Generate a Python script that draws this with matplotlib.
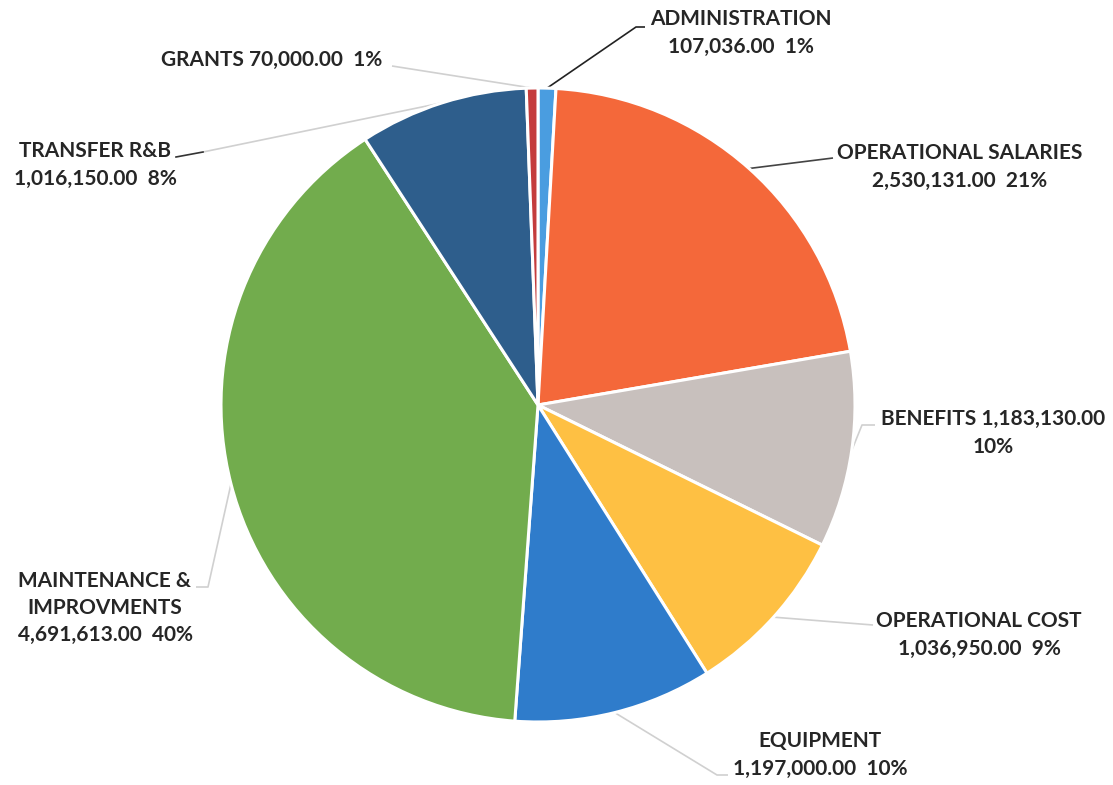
import numpy as np
import matplotlib.pyplot as plt

plt.rcParams.update({"font.family": ["Lato", "DejaVu Sans"], "font.weight": "bold"})

# budget categories, clockwise from the top
categories = ["ADMINISTRATION", "OPERATIONAL SALARIES", "BENEFITS", "OPERATIONAL COST",
              "EQUIPMENT", "MAINTENANCE & IMPROVMENTS", "TRANSFER R&B", "GRANTS"]
amounts = [107036.00, 2530131.00, 1183130.00, 1036950.00,
           1197000.00, 4691613.00, 1016150.00, 70000.00]
percents = [1, 21, 10, 9, 10, 40, 8, 1]
colors = ["#4a9de0", "#f4683a", "#c8c0bd", "#fec043",
          "#2f7ccb", "#72ac4d", "#2e5e8c", "#c43c3c"]

W, H = 1113, 785
cx, cy, R = 538, 405, 317

fig = plt.figure(figsize=(W / 100, H / 100), dpi=100)
ax = fig.add_axes([0, 0, 1, 1])
ax.axis("off")

wedges, _ = ax.pie(amounts, colors=colors, startangle=90, counterclock=False,
                   center=(cx, H - cy), radius=R,
                   wedgeprops=dict(edgecolor="white", linewidth=2.2))
ax.set_xlim(0, W)
ax.set_ylim(0, H)
ax.set_aspect("equal")


def fmt(v):
    return f"{v:,.2f}"


# label text, where it sits and how the leader line bends (pixel coords from top-left)
a, p = amounts, percents
texts = [
    f"ADMINISTRATION\n{fmt(a[0])}  {p[0]}%",
    f"OPERATIONAL SALARIES\n{fmt(a[1])}  {p[1]}%",
    f"BENEFITS {fmt(a[2])}\n{p[2]}%",
    f"OPERATIONAL COST\n{fmt(a[3])}  {p[3]}%",
    f"EQUIPMENT\n{fmt(a[4])}  {p[4]}%",
    f"MAINTENANCE &\nIMPROVMENTS\n{fmt(a[5])}  {p[5]}%",
    f"TRANSFER R&B\n{fmt(a[6])}  {p[6]}%",
    f"GRANTS {fmt(a[7])}  {p[7]}%",
]
text_pos = [(741, 33), (960, 167), (993, 433), (979, 635),
            (820, 755), (105, 608), (95, 165), (272, 60)]
bends = [[(636, 27), (645, 27)],
         [(833, 158)],
         [(862, 425), (875, 425)],
         [(873, 625)],
         [(717, 775), (728, 775)],
         [(208, 587), (196, 587)],
         [(203, 152)],
         [(392, 66)]]
line_colors = ["#222222", "#444444", "#d0d0d0", "#d0d0d0",
               "#d0d0d0", "#d0d0d0", "#d0d0d0", "#d0d0d0"]

for w, txt, (tx, ty), pts, lc in zip(wedges, texts, text_pos, bends, line_colors):
    mid = np.deg2rad((w.theta1 + w.theta2) / 2)
    sx, sy = cx + R * np.cos(mid), cy - R * np.sin(mid)
    xs = [sx] + [q[0] for q in pts]
    ys = [H - sy] + [H - q[1] for q in pts]
    ax.plot(xs, ys, color=lc, lw=1.2, zorder=0, solid_capstyle="butt")
    ax.text(tx, H - ty, txt, ha="center", va="center", fontsize=15,
            fontweight="bold", color="#262626", linespacing=1.45)

# darker tail next to the transfer label
ax.plot([203, 176], [H - 152, H - 157], color="#333333", lw=1.2, zorder=0)

fig.savefig("out.png", dpi=100)
